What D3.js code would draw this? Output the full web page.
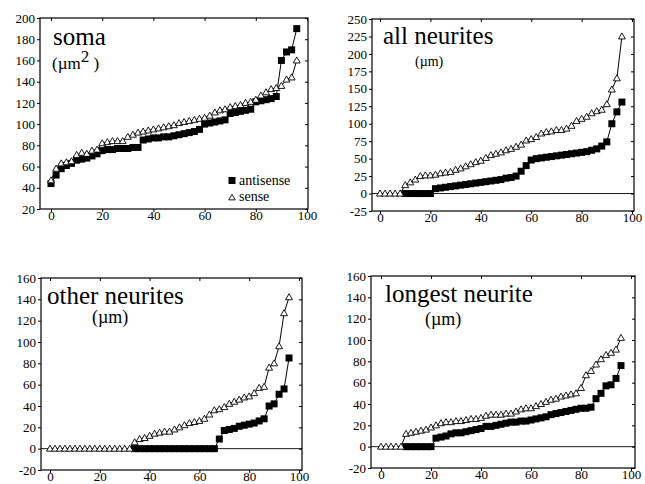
<!DOCTYPE html>
<html>
<head>
<meta charset="utf-8">
<script src="https://cdn.jsdelivr.net/npm/d3@7"></script>
<style>
body { margin: 0; background: #fff; }
svg { display: block; background: #fff; }
</style>
</head>
<body>
<div id="vis"></div>
<script>
const FRAME_WIDTH = 645;
const FRAME_HEIGHT = 484;
const FONT = '"Liberation Serif"';

// percentile rank (x axis), same for every series
const pct = [0, 2, 4, 6, 8, 10, 12, 14, 16, 18, 20, 22, 24, 26, 28, 30, 32, 34, 36, 38,
             40, 42, 44, 46, 48, 50, 52, 54, 56, 58, 60, 62, 64, 66, 68, 70, 72, 74, 76, 78,
             80, 82, 84, 86, 88, 90, 92, 94, 96];

// soma (um2)
const somaAnti = [44, 52, 58, 61, 63, 66, 67, 68, 70, 72, 75, 76, 76, 77, 77, 77, 78, 78, 85, 86,
                  87, 87, 88, 88, 89, 90, 91, 92, 93, 95, 100, 101, 102, 103, 104, 110, 111, 112, 113, 114,
                  121, 122, 123, 124, 126, 160, 168, 170, 190];
const somaSense = [47, 58, 63, 64, 65, 71, 73, 72, 75, 76, 82, 83, 84, 84, 84, 88, 90, 92, 93, 94,
                   95, 96, 97, 98, 99, 101, 102, 103, 104, 105, 106, 108, 111, 113, 114, 116, 117, 118, 120, 121,
                   123, 127, 130, 133, 134, 136, 142, 144, 160];

// all neurites (um)
const allAnti = [null, null, null, null, null, 0, 0, 0, 0, 0, 0, 7, 8, 9, 10, 11, 12, 13, 14, 15,
                 16, 17, 18, 19, 20, 22, 23, 25, 32, 40, 48, 50, 51, 52, 53, 54, 55, 56, 57, 58,
                 59, 60, 62, 64, 68, 74, 100, 117, 131];
const allSense = [0, 0, 0, 0, 0, 12, 16, 20, 25, 26, 26, 27, 29, 30, 31, 34, 36, 39, 42, 45,
                  47, 51, 55, 57, 59, 62, 64, 67, 70, 76, 78, 81, 86, 88, 89, 91, 91, 93, 97, 104,
                  107, 110, 115, 118, 120, 128, 149, 165, 225];

// other neurites (um)
const otherAnti = [null, null, null, null, null, null, null, null, null, null, null, null, null, null, null, null, null, 0, 0, 0,
                   0, 0, 0, 0, 0, 0, 0, 0, 0, 0, 0, 0, 0, 0, 9, 17, 18, 19, 21, 22,
                   23, 24, 26, 28, 40, 42, 51, 56, 85];
const otherSense = [0, 0, 0, 0, 0, 0, 0, 0, 0, 0, 0, 0, 0, 0, 0, 0, 0, 6, 9, 10,
                    12, 14, 15, 16, 16, 18, 20, 22, 24, 25, 26, 28, 32, 36, 37, 39, 42, 44, 46, 48,
                    49, 52, 57, 58, 76, 80, 96, 127, 142];

// longest neurite (um)
const longAnti = [null, null, null, null, null, 0, 0, 0, 0, 0, 0, 8, 9, 10, 12, 13, 13, 14, 15, 16,
                  17, 19, 19, 20, 21, 22, 23, 23, 24, 24, 25, 26, 27, 28, 30, 31, 32, 33, 34, 35,
                  36, 36, 37, 45, 50, 57, 58, 64, 76];
const longSense = [0, 0, 0, 0, 0, 12, 13, 14, 15, 16, 18, 20, 22, 23, 23, 24, 24, 25, 26, 26,
                   27, 29, 30, 30, 30, 31, 31, 33, 35, 36, 36, 38, 40, 42, 44, 45, 47, 48, 49, 50,
                   55, 67, 71, 77, 82, 86, 88, 91, 102];

const xTicks = [0, 20, 40, 60, 80, 100];
const somaTicks = [20, 40, 60, 80, 100, 120, 140, 160, 180, 200];
const allTicks = [-25, 0, 25, 50, 75, 100, 125, 150, 175, 200, 225, 250];
const otherTicks = [-20, 0, 20, 40, 60, 80, 100, 120, 140, 160];
const longTicks = [-20, 0, 20, 40, 60, 80, 100, 120, 140, 160];

const legendLabels = ["antisense", "sense"];

const PANELS = [
  {title: "soma", unit: "(\u00b5m", sup: "2", unitEnd: " )", anti: somaAnti, sense: somaSense, yTicks: somaTicks,
   box: {left: 40, right: 308, top: 18, bottom: 209}, x0: 51, x100: 307, zero: false,
   tx: 53, ty: 45, ux: 52, uy: 69, us: 17, legend: true},
  {title: "all neurites", unit: "(\u00b5m)", anti: allAnti, sense: allSense, yTicks: allTicks,
   box: {left: 372, right: 634, top: 19, bottom: 211}, x0: 380, x100: 632, zero: true,
   tx: 383, ty: 44, ux: 415, uy: 66, us: 14},
  {title: "other neurites", unit: "(\u00b5m)", anti: otherAnti, sense: otherSense, yTicks: otherTicks,
   box: {left: 41, right: 302, top: 278, bottom: 470}, x0: 50, x100: 299, zero: true,
   tx: 47, ty: 304, ux: 92, uy: 323, us: 18},
  {title: "longest neurite", unit: "(\u00b5m)", anti: longAnti, sense: longSense, yTicks: longTicks,
   box: {left: 371, right: 635, top: 276, bottom: 468}, x0: 381, x100: 631, zero: true,
   tx: 385, ty: 302, ux: 425, uy: 325, us: 18}
];

const FRAME = d3.select("#vis")
  .append("svg")
  .attr("width", FRAME_WIDTH)
  .attr("height", FRAME_HEIGHT);

const square = d3.symbol(d3.symbolSquare, 49);
const triangle = d3.symbol(d3.symbolTriangle, 21);

const points = (vals) => pct.map((v, i) => ({x: v, y: vals[i]})).filter((d) => d.y !== null);

PANELS.forEach((p) => {
  const b = p.box;
  const X = d3.scaleLinear().domain([0, 100]).range([p.x0, p.x100]);
  const Y = d3.scaleLinear()
    .domain([p.yTicks[0], p.yTicks[p.yTicks.length - 1]])
    .range([b.bottom, b.top]);
  const g = FRAME.append("g");

  // ticks on all four sides
  g.append("g").attr("transform", `translate(${b.left},0)`)
    .call(d3.axisLeft(Y).tickValues(p.yTicks).tickSize(3).tickSizeOuter(0).tickPadding(2)
      .tickFormat((d) => String(d)));
  g.append("g").attr("transform", `translate(${b.right},0)`)
    .call(d3.axisRight(Y).tickValues(p.yTicks).tickSize(-3).tickSizeOuter(0).tickFormat(""));
  g.append("g").attr("transform", `translate(0,${b.bottom})`)
    .call(d3.axisBottom(X).tickValues(xTicks).tickSize(3).tickSizeOuter(0).tickPadding(-1)
      .tickFormat((d) => String(d)));
  g.append("g").attr("transform", `translate(0,${b.top})`)
    .call(d3.axisTop(X).tickValues(xTicks).tickSize(-3).tickSizeOuter(0).tickFormat(""));
  g.selectAll(".domain").remove();
  g.selectAll(".tick line").attr("stroke", "#000");
  g.selectAll(".tick text")
    .attr("fill", "#000")
    .style("font-family", FONT)
    .style("font-size", "13px");

  g.append("rect")
    .attr("x", b.left).attr("y", b.top)
    .attr("width", b.right - b.left).attr("height", b.bottom - b.top)
    .attr("fill", "none").attr("stroke", "#000").attr("stroke-width", 1.2);

  if (p.zero) {
    g.append("line")
      .attr("x1", b.left).attr("x2", b.right)
      .attr("y1", Y(0)).attr("y2", Y(0))
      .attr("stroke", "#000").attr("stroke-width", 0.9);
  }

  const line = d3.line().x((d) => X(d.x)).y((d) => Y(d.y));
  const anti = points(p.anti);
  const sense = points(p.sense);

  g.append("path").datum(anti).attr("d", line)
    .attr("fill", "none").attr("stroke", "#000").attr("stroke-width", 1);
  g.selectAll(".anti").data(anti).enter().append("path")
    .attr("class", "anti")
    .attr("d", square)
    .attr("transform", (d) => `translate(${X(d.x)},${Y(d.y)})`)
    .attr("fill", "#000");

  g.append("path").datum(sense).attr("d", line)
    .attr("fill", "none").attr("stroke", "#000").attr("stroke-width", 1);
  g.selectAll(".sense").data(sense).enter().append("path")
    .attr("class", "sense")
    .attr("d", triangle)
    .attr("transform", (d) => `translate(${X(d.x)},${Y(d.y) + 0.5})`)
    .attr("fill", "#fff").attr("stroke", "#000").attr("stroke-width", 0.9);

  // titles
  g.append("text").attr("x", p.tx).attr("y", p.ty)
    .style("font-family", FONT).style("font-size", "25px")
    .text(p.title);
  const unit = g.append("text").attr("x", p.ux).attr("y", p.uy)
    .style("font-family", FONT).style("font-size", p.us + "px")
    .text(p.unit);
  if (p.sup) {
    unit.append("tspan").attr("dy", -7).text(p.sup);
    unit.append("tspan").attr("dy", 7).text(p.unitEnd);
  }

  if (p.legend) {
    g.append("path").attr("d", square)
      .attr("transform", "translate(232,180.5)").attr("fill", "#000");
    g.append("path").attr("d", d3.symbol(d3.symbolTriangle, 18))
      .attr("transform", "translate(232,198)")
      .attr("fill", "#fff").attr("stroke", "#000").attr("stroke-width", 0.9);
    g.selectAll(".leg").data(legendLabels).enter().append("text")
      .attr("class", "leg")
      .attr("x", 239).attr("y", (d, i) => 185 + i * 16)
      .style("font-family", FONT).style("font-size", "14px")
      .text((d) => d);
  }
});
</script>
</body>
</html>
